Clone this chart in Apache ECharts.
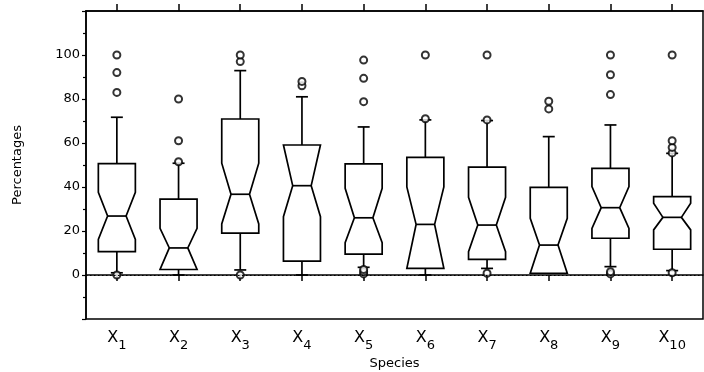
<!DOCTYPE html>
<html>
<head>
<meta charset="utf-8">
<script src="https://cdn.jsdelivr.net/npm/echarts@6/dist/echarts.min.js"></script>
<style>
  html, body { margin: 0; padding: 0; background: #fff; }
  #chart { width: 704px; height: 372px; }
</style>
</head>
<body>
<div id="chart"></div>
<script>
// species along the x axis (subscript number)
var categories = ['1', '2', '3', '4', '5', '6', '7', '8', '9', '10']

// notched box stats (percentages)
var whiskerLow = [1, 0, 2.3, 0, 3.5, 0, 3, 0.8, 3.8, 2]
var q1 = [10.6, 2.5, 19, 6.3, 9.5, 3, 7.1, 0.8, 16.7, 11.7]
var notchLow = [16.2, 2.5, 23.2, 26.5, 14.7, 3, 10.6, 0.8, 21.2, 20.5]
var median = [26.8, 12.3, 36.7, 40.6, 26, 23, 22.7, 13.6, 30.6, 26.2]
var notchHigh = [37.6, 21.2, 50.8, 59.1, 39.4, 40, 35.3, 25.8, 40.2, 32.6]
var q3 = [50.6, 34.5, 70.9, 59.1, 50.5, 53.5, 49, 39.8, 48.5, 35.6]
var whiskerHigh = [71.7, 50.8, 92.9, 81, 67.3, 70.5, 70.2, 62.9, 68.2, 55.3]

// outliers as [species index, value]
var outliers = [
  [0, 0], [0, 83], [0, 92], [0, 100],
  [1, 51.5], [1, 61], [1, 80],
  [2, 0], [2, 97], [2, 100],
  [3, 86], [3, 88],
  [4, 0.5], [4, 1.5], [4, 2.5], [4, 78.8], [4, 89.4], [4, 97.7],
  [5, 71], [5, 100],
  [6, 0.8], [6, 70.5], [6, 100],
  [7, 75.5], [7, 79],
  [8, 0.5], [8, 1.5], [8, 82], [8, 91], [8, 100],
  [9, 1], [9, 55.5], [9, 58], [9, 61], [9, 100]
]

var yTicks = [0, 20, 40, 60, 80, 100]

var boxData = categories.map(function (c, i) {
  return [i, whiskerLow[i], q1[i], notchLow[i], median[i], notchHigh[i], q3[i], whiskerHigh[i]]
})

var stroke = { stroke: '#000', lineWidth: 1.7, fill: null }

function renderBox (params, api) {
  var i = api.value(0)
  var half = api.size([1, 0])[0] * 0.3
  var inset = half * 0.5
  var cap = 6
  var x = api.coord([i, 0])[0]
  var y = function (v) { return api.coord([i, v])[1] }
  var L = x - half
  var R = x + half
  var yq1 = y(api.value(2))
  var yq3 = y(api.value(6))
  var ymed = y(api.value(4))
  var ynlo = y(Math.max(api.value(3), api.value(2)))
  var ynhi = y(Math.min(api.value(5), api.value(6)))
  var ywlo = y(api.value(1))
  var ywhi = y(api.value(7))

  var children = [{
    type: 'polygon',
    shape: {
      points: [
        [L, yq3], [R, yq3], [R, ynhi], [R - inset, ymed], [R, ynlo], [R, yq1],
        [L, yq1], [L, ynlo], [L + inset, ymed], [L, ynhi]
      ]
    },
    style: stroke
  }, {
    type: 'line',
    shape: { x1: L + inset, y1: ymed, x2: R - inset, y2: ymed },
    style: stroke
  }, {
    type: 'line',
    shape: { x1: x, y1: yq3, x2: x, y2: ywhi },
    style: stroke
  }, {
    type: 'line',
    shape: { x1: x - cap, y1: ywhi, x2: x + cap, y2: ywhi },
    style: stroke
  }]
  if (api.value(1) < api.value(2)) {
    children.push({
      type: 'line',
      shape: { x1: x, y1: yq1, x2: x, y2: ywlo },
      style: stroke
    }, {
      type: 'line',
      shape: { x1: x - cap, y1: ywlo, x2: x + cap, y2: ywlo },
      style: stroke
    })
  }
  return { type: 'group', children: children }
}

var font = 'DejaVu Sans'
var chart = echarts.init(document.getElementById('chart'))

chart.setOption({
  animation: false,
  backgroundColor: '#fff',
  grid: {
    left: 86,
    right: 1,
    top: 11,
    bottom: 53,
    containLabel: false,
    outerBoundsMode: 'none',
    show: true,
    borderColor: '#000',
    borderWidth: 1.5
  },
  xAxis: [{
    type: 'category',
    data: categories,
    position: 'bottom',
    name: 'Species',
    nameLocation: 'middle',
    nameGap: 37,
    nameTextStyle: { color: '#000', fontFamily: font, fontSize: 13 },
    axisLine: { lineStyle: { color: '#000', width: 1.5 } },
    axisTick: { show: true, interval: 0, alignWithLabel: true, length: 6, lineStyle: { color: '#000', width: 1.5 } },
    axisLabel: {
      interval: 0,
      margin: 11,
      formatter: function (v) { return '{x|X}{s|' + v + '}' },
      rich: {
        x: { fontFamily: font, fontSize: 16, color: '#000', lineHeight: 16, verticalAlign: 'top' },
        s: { fontFamily: font, fontSize: 13, color: '#000', lineHeight: 22, verticalAlign: 'bottom' }
      }
    },
    splitLine: { show: false }
  }, {
    type: 'category',
    data: categories,
    position: 'top',
    axisLine: { lineStyle: { color: '#000', width: 1.5 } },
    axisTick: { show: true, interval: 0, alignWithLabel: true, length: 7, lineStyle: { color: '#000', width: 1.5 } },
    axisLabel: { show: false, interval: 0 },
    splitLine: { show: false }
  }],
  yAxis: {
    type: 'value',
    min: -20,
    max: 120,
    interval: 20,
    name: 'Percentages',
    nameLocation: 'middle',
    nameGap: 62,
    nameTextStyle: { color: '#000', fontFamily: font, fontSize: 13 },
    axisLine: { show: true, lineStyle: { color: '#000', width: 1.5 } },
    axisTick: { show: true, length: 4, lineStyle: { color: '#000', width: 1.2 } },
    minorTick: { show: true, splitNumber: 2, length: 3, lineStyle: { color: '#000', width: 1.2 } },
    axisLabel: {
      color: '#000',
      fontFamily: font,
      fontSize: 13,
      margin: 6,
      formatter: function (v) { return yTicks.indexOf(v) >= 0 ? String(v) : '' }
    },
    splitLine: { show: false }
  },
  series: [{
    type: 'custom',
    renderItem: renderBox,
    encode: { x: 0, y: [1, 2, 3, 4, 5, 6, 7] },
    data: boxData,
    z: 3
  }, {
    type: 'scatter',
    data: outliers,
    symbol: 'emptyCircle',
    symbolSize: 7,
    itemStyle: { color: '#000', borderColor: '#000', borderWidth: 1.3 },
    z: 4,
    markLine: {
      silent: true,
      symbol: 'none',
      label: { show: false },
      lineStyle: { color: '#000', type: [1.5, 2.5], width: 1.2 },
      data: [{ yAxis: 0 }]
    }
  }]
})
</script>
</body>
</html>
